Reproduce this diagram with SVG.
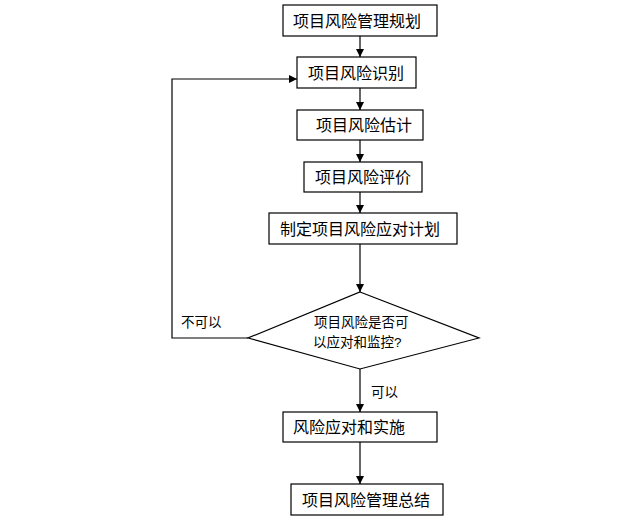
<svg xmlns="http://www.w3.org/2000/svg" width="619" height="519" viewBox="0 0 619 519">
<style>
.box{fill:#fff;stroke:#000;stroke-width:1.2}
.t{font-family:"Liberation Sans","Noto Sans CJK SC",sans-serif;font-size:16px;fill:#000;dominant-baseline:central}
.s{font-family:"Liberation Sans","Noto Sans CJK SC",sans-serif;font-size:13.5px;fill:#000;dominant-baseline:central}
.c{fill:none;stroke:#000;stroke-width:1.2}
</style>
<defs>
<marker id="ah" viewBox="0 0 10 10" refX="10" refY="5" markerWidth="8" markerHeight="8" markerUnits="userSpaceOnUse" orient="auto">
<path d="M0,0 L10,5 L0,10 Z" fill="#000"/>
</marker>
</defs>
<rect width="619" height="519" fill="#fff"/>
<g id="connectors">
<line class="c" x1="360" y1="36" x2="360" y2="57" marker-end="url(#ah)"/>
<line class="c" x1="360" y1="88" x2="360" y2="110" marker-end="url(#ah)"/>
<line class="c" x1="360" y1="140" x2="360" y2="162" marker-end="url(#ah)"/>
<line class="c" x1="360" y1="192" x2="360" y2="213" marker-end="url(#ah)"/>
<line class="c" x1="360" y1="244" x2="360" y2="292" marker-end="url(#ah)"/>
<line class="c" x1="360" y1="369" x2="360" y2="412" marker-end="url(#ah)"/>
<line class="c" x1="360" y1="442" x2="360" y2="484" marker-end="url(#ah)"/>
<polyline class="c" points="248,338 172,338 172,79 297,79" marker-end="url(#ah)"/>
<text class="s" x="181" y="322">不可以</text>
<text class="s" x="371" y="392">可以</text>
</g>
<g id="n1"><rect class="box" x="283" y="5" width="154" height="31"/><text class="t" x="293" y="21">项目风险管理规划</text></g>
<g id="n2"><rect class="box" x="297" y="57" width="119" height="31"/><text class="t" x="308" y="73">项目风险识别</text></g>
<g id="n3"><rect class="box" x="297" y="110" width="126" height="30"/><text class="t" x="316" y="125">项目风险估计</text></g>
<g id="n4"><rect class="box" x="304" y="162" width="118" height="30"/><text class="t" x="315" y="177">项目风险评价</text></g>
<g id="n5"><rect class="box" x="269" y="213" width="188" height="31"/><text class="t" x="280" y="229">制定项目风险应对计划</text></g>
<g id="n6"><polygon class="box" points="360,292 479,338 360,369 248,338"/><text class="s" x="314" y="322">项目风险是否可</text><text class="s" x="313" y="342">以应对和监控?</text></g>
<g id="n7"><rect class="box" x="283" y="412" width="154" height="30"/><text class="t" x="293" y="427">风险应对和实施</text></g>
<g id="n8"><rect class="box" x="291" y="484" width="152" height="31"/><text class="t" x="302" y="500">项目风险管理总结</text></g>
</svg>
